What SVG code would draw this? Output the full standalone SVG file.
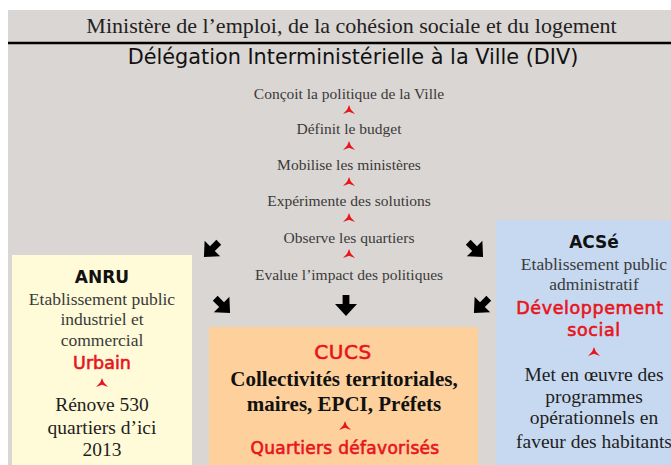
<svg xmlns="http://www.w3.org/2000/svg" width="671" height="465" viewBox="0 0 671 465">
<style>
.serif{font-family:"Liberation Serif","Times New Roman",serif;text-anchor:middle}
.sans{font-family:"DejaVu Sans","Liberation Sans",sans-serif;text-anchor:middle}
.list{font-size:15.5px;fill:#3a3a3a}
.sub{font-size:17.5px;fill:#3a3a3a}
.body{font-size:19.5px;fill:#1e1e1e}
.head{font-size:17px;font-weight:bold;fill:#111}
.red{fill:#e8141c;stroke:#e8141c;stroke-width:0.6}
.ra{fill:#e8141c}
.ba{fill:#000}
</style>
<defs>
<path id="redArrow" d="M0,-5 L1.8,-0.5 L6,4 L0,1.8 L-6,4 L-1.8,-0.5 Z"/>
<path id="bigArrow" d="M-3.4,-11 H3.4 V-2 H11 L0,10 L-11,-2 H-3.4 Z"/>
</defs>
<rect width="671" height="465" fill="#ffffff"/>
<rect x="8" y="10" width="663" height="455" fill="#dad6d3"/>
<g id="ministere">
<text class="serif" x="351.5" y="33" font-size="22" fill="#222">Ministère de l’emploi, de la cohésion sociale et du logement</text>
<line x1="8" y1="43" x2="671" y2="43" stroke="#000" stroke-width="2.5"/>
</g>
<g id="div">
<text class="sans" x="353" y="64" font-size="20.8" fill="#111">Délégation Interministérielle à la Ville (DIV)</text>
<text class="serif list" x="349" y="99">Conçoit la politique de la Ville</text>
<text class="serif list" x="349" y="134">Définit le budget</text>
<text class="serif list" x="349" y="170">Mobilise les ministères</text>
<text class="serif list" x="349" y="206">Expérimente des solutions</text>
<text class="serif list" x="349" y="243">Observe les quartiers</text>
<text class="serif list" x="349" y="280">Evalue l’impact des politiques</text>
</g>
<g id="anru">
<rect x="12" y="255" width="180" height="210" fill="#fffad8"/>
<text class="sans head" x="102" y="283">ANRU</text>
<text class="serif sub" x="102" y="305">Etablissement public</text>
<text class="serif sub" x="102" y="325">industriel et</text>
<text class="serif sub" x="102" y="346">commercial</text>
<text class="sans red" x="102" y="369" font-size="17.5">Urbain</text>
<text class="serif body" x="102" y="411">Rénove 530</text>
<text class="serif body" x="102" y="434">quartiers d’ici</text>
<text class="serif body" x="102" y="456">2013</text>
</g>
<g id="acse">
<rect x="496" y="220" width="175" height="245" fill="#c6d9f0"/>
<text class="sans head" x="594" y="248">ACSé</text>
<text class="serif sub" x="594" y="270">Etablissement public</text>
<text class="serif sub" x="594" y="290">administratif</text>
<text class="sans red" x="590" y="314" font-size="17.5" letter-spacing="0.6">Développement</text>
<text class="sans red" x="594" y="336" font-size="17.5" letter-spacing="0.6">social</text>
<text class="serif body" x="594" y="381">Met en œuvre des</text>
<text class="serif body" x="594" y="403">programmes</text>
<text class="serif body" x="594" y="424">opérationnels en</text>
<text class="serif body" x="594" y="448">faveur des habitants</text>
</g>
<g id="cucs">
<rect x="209" y="327" width="269" height="138" fill="#fdd09c"/>
<text class="sans red" x="343" y="359" font-size="20" letter-spacing="0.5">CUCS</text>
<text class="serif" x="344" y="386" font-size="21" font-weight="bold" fill="#111">Collectivités territoriales,</text>
<text class="serif" x="344" y="411" font-size="21" font-weight="bold" fill="#111">maires, EPCI, Préfets</text>
<text class="sans red" x="345" y="454" font-size="17" letter-spacing="0.3">Quartiers défavorisés</text>
</g>
<g id="connectors">
<use href="#redArrow" class="ra" x="349" y="110"/>
<use href="#redArrow" class="ra" x="349" y="146"/>
<use href="#redArrow" class="ra" x="349" y="182"/>
<use href="#redArrow" class="ra" x="349" y="218"/>
<use href="#redArrow" class="ra" x="349" y="254"/>
<use href="#redArrow" class="ra" x="102" y="383"/>
<use href="#redArrow" class="ra" x="594" y="352"/>
<use href="#redArrow" class="ra" x="345" y="426"/>
<use href="#bigArrow" class="ba" transform="translate(211,250) rotate(45)"/>
<use href="#bigArrow" class="ba" transform="translate(476,250) rotate(-45)"/>
<use href="#bigArrow" class="ba" transform="translate(223,306) rotate(-45)"/>
<use href="#bigArrow" class="ba" transform="translate(346,306)"/>
<use href="#bigArrow" class="ba" transform="translate(481,306) rotate(45)"/>
</g>
</svg>
